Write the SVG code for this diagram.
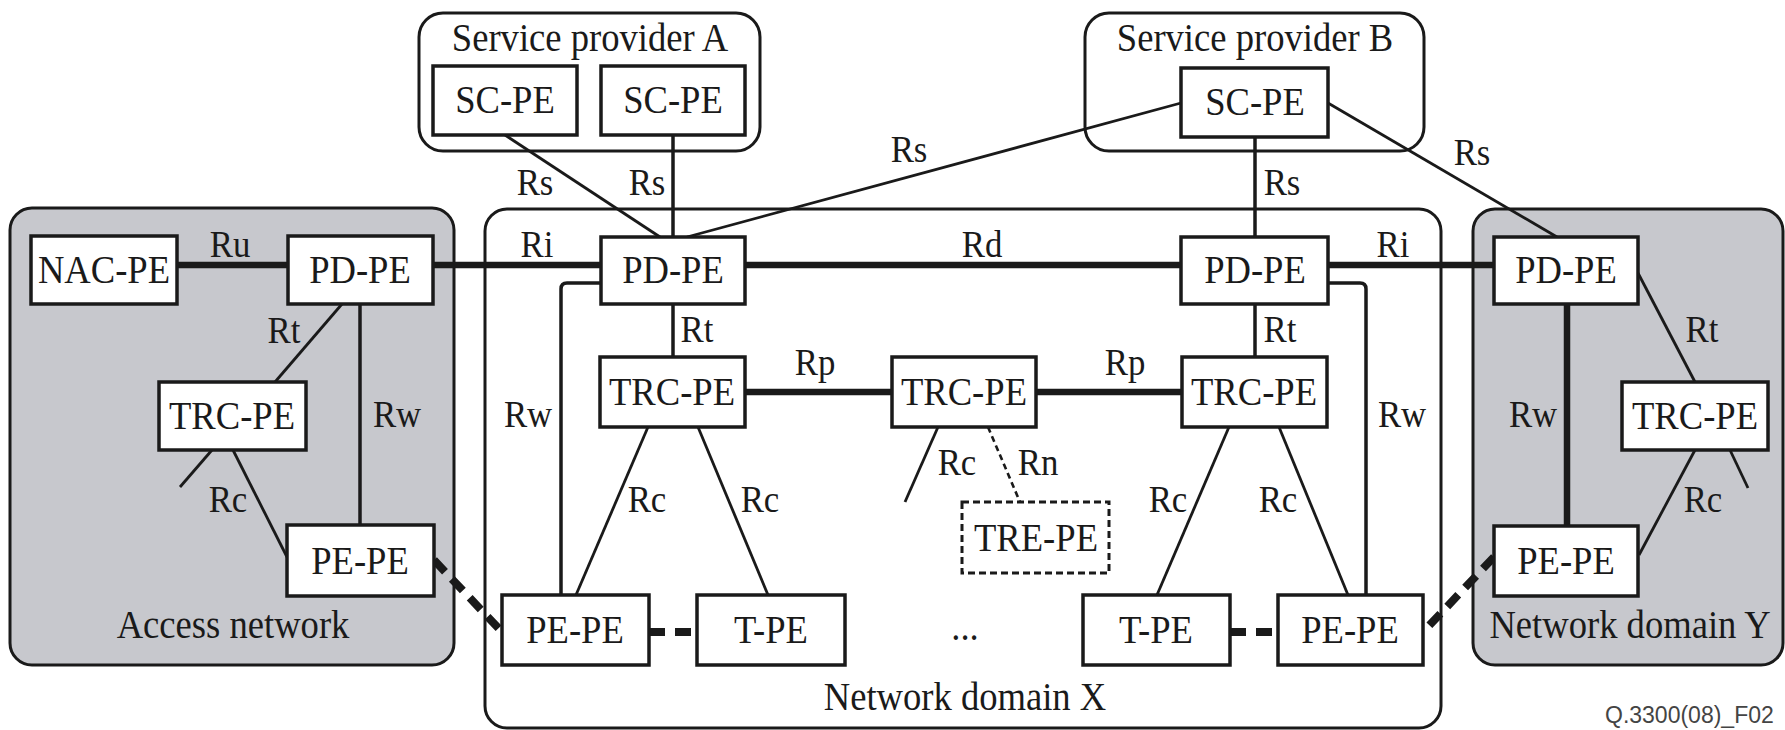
<svg xmlns="http://www.w3.org/2000/svg" width="1785" height="730" viewBox="0 0 1785 730">
<style>
.t{font-family:"Liberation Serif","Times New Roman",serif;font-size:40px;fill:#1a1a1a;text-anchor:middle;transform-box:fill-box;transform-origin:center;transform:scaleX(.915)}
.l{font-size:38px}
.fig{font-family:"Liberation Sans",Arial,sans-serif;font-size:23px;fill:#444}
.box{fill:#fff;stroke:#1a1a1a;stroke-width:3.5}
.dbox{fill:#fff;stroke:#1a1a1a;stroke-width:3;stroke-dasharray:7 4}
.grp{fill:#fff;stroke:#1a1a1a;stroke-width:3}
.shade{fill:#c7c8cd;stroke:#1a1a1a;stroke-width:3}
.c{stroke:#1a1a1a;stroke-width:2.8;fill:none}
.m{stroke-width:3.5}
.k{stroke-width:6.5}
.dn{stroke-dasharray:6 4;stroke-width:2.6}
.dk{stroke-width:8;stroke-dasharray:16 10}
</style>

<!-- containers -->
<g id="service-provider-a">
  <rect class="grp" x="419" y="13" width="341" height="138" rx="24"/>
  <text class="t" x="590" y="51">Service provider A</text>
</g>
<g id="service-provider-b">
  <rect class="grp" x="1085" y="13" width="339" height="138" rx="24"/>
  <text class="t" x="1255" y="51">Service provider B</text>
</g>
<g id="access-network">
  <rect class="shade" x="10" y="208" width="444" height="457" rx="22"/>
  <text class="t" x="233" y="638">Access network</text>
</g>
<g id="network-domain-x">
  <rect class="grp" x="485" y="209" width="956" height="519" rx="22"/>
  <text class="t" x="965" y="710">Network domain X</text>
  <text class="t" x="965" y="640">...</text>
</g>
<g id="network-domain-y">
  <rect class="shade" x="1473" y="209" width="310" height="456" rx="22"/>
  <text class="t" x="1630" y="638">Network domain Y</text>
</g>

<!-- connectors -->
<g id="connectors">
  <line class="c k" x1="177" y1="265" x2="288" y2="265"/>
  <line class="c k" x1="433" y1="265" x2="601" y2="265"/>
  <line class="c k" x1="745" y1="265" x2="1181" y2="265"/>
  <line class="c k" x1="1328" y1="265" x2="1494" y2="265"/>
  <line class="c" x1="505" y1="135" x2="660" y2="237"/>
  <line class="c m" x1="673" y1="135" x2="673" y2="237"/>
  <line class="c" x1="1181" y1="103" x2="687" y2="237"/>
  <line class="c m" x1="1255" y1="137" x2="1255" y2="237"/>
  <line class="c" x1="1328" y1="103" x2="1557" y2="237"/>
  <line class="c" x1="342" y1="304" x2="275" y2="382"/>
  <line class="c m" x1="360" y1="304" x2="360" y2="525"/>
  <line class="c" x1="233" y1="450" x2="287" y2="557"/>
  <line class="c" x1="212" y1="450" x2="180" y2="487"/>
  <line class="c m" x1="673" y1="304" x2="673" y2="357"/>
  <line class="c m" x1="1255" y1="304" x2="1255" y2="357"/>
  <path class="c m" d="M601 283 H567 Q561 283 561 289 V595"/>
  <path class="c m" d="M1328 283 H1360 Q1366 283 1366 289 V595"/>
  <line class="c k" x1="745" y1="392" x2="892" y2="392"/>
  <line class="c k" x1="1036" y1="392" x2="1182" y2="392"/>
  <line class="c" x1="648" y1="427" x2="576" y2="595"/>
  <line class="c" x1="698" y1="427" x2="768" y2="595"/>
  <line class="c" x1="938" y1="427" x2="905" y2="502"/>
  <line class="c dn" x1="988" y1="427" x2="1020" y2="502"/>
  <line class="c" x1="1229" y1="427" x2="1157" y2="595"/>
  <line class="c" x1="1279" y1="427" x2="1348" y2="595"/>
  <line class="c dk" x1="649" y1="632" x2="697" y2="632"/>
  <line class="c dk" x1="1230" y1="632" x2="1278" y2="632"/>
  <line class="c dk" x1="434" y1="560" x2="502" y2="632"/>
  <line class="c dk" x1="1494" y1="557" x2="1423" y2="632"/>
  <line class="c" x1="1638" y1="273" x2="1695" y2="382"/>
  <line class="c k" x1="1567" y1="304" x2="1567" y2="526"/>
  <line class="c" x1="1695" y1="450" x2="1639" y2="555"/>
  <line class="c" x1="1730" y1="450" x2="1748" y2="488"/>
  <!-- connector labels -->
  <text class="t l" x="230" y="257">Ru</text>
  <text class="t l" x="537" y="257">Ri</text>
  <text class="t l" x="982" y="257">Rd</text>
  <text class="t l" x="1393" y="257">Ri</text>
  <text class="t l" x="535" y="195">Rs</text>
  <text class="t l" x="647" y="195">Rs</text>
  <text class="t l" x="909" y="162">Rs</text>
  <text class="t l" x="1282" y="195">Rs</text>
  <text class="t l" x="1472" y="165">Rs</text>
  <text class="t l" x="284" y="343">Rt</text>
  <text class="t l" x="697" y="342">Rt</text>
  <text class="t l" x="1280" y="342">Rt</text>
  <text class="t l" x="1702" y="342">Rt</text>
  <text class="t l" x="397" y="427">Rw</text>
  <text class="t l" x="528" y="427">Rw</text>
  <text class="t l" x="1402" y="427">Rw</text>
  <text class="t l" x="1533" y="427">Rw</text>
  <text class="t l" x="815" y="375">Rp</text>
  <text class="t l" x="1125" y="375">Rp</text>
  <text class="t l" x="228" y="512">Rc</text>
  <text class="t l" x="647" y="512">Rc</text>
  <text class="t l" x="760" y="512">Rc</text>
  <text class="t l" x="957" y="475">Rc</text>
  <text class="t l" x="1038" y="475">Rn</text>
  <text class="t l" x="1168" y="512">Rc</text>
  <text class="t l" x="1278" y="512">Rc</text>
  <text class="t l" x="1703" y="512">Rc</text>
</g>

<!-- nodes -->
<g id="sc-pe-a1"><rect class="box" x="433" y="66" width="144" height="69"/><text class="t" x="505" y="113">SC-PE</text></g>
<g id="sc-pe-a2"><rect class="box" x="601" y="66" width="144" height="69"/><text class="t" x="673" y="113">SC-PE</text></g>
<g id="sc-pe-b"><rect class="box" x="1181" y="68" width="147" height="69"/><text class="t" x="1255" y="115">SC-PE</text></g>
<g id="nac-pe"><rect class="box" x="31" y="236" width="146" height="68"/><text class="t" x="104" y="283">NAC-PE</text></g>
<g id="pd-pe-access"><rect class="box" x="288" y="236" width="145" height="68"/><text class="t" x="360" y="283">PD-PE</text></g>
<g id="pd-pe-x1"><rect class="box" x="601" y="237" width="144" height="67"/><text class="t" x="673" y="283">PD-PE</text></g>
<g id="pd-pe-x2"><rect class="box" x="1181" y="237" width="147" height="67"/><text class="t" x="1255" y="283">PD-PE</text></g>
<g id="pd-pe-y"><rect class="box" x="1494" y="237" width="144" height="67"/><text class="t" x="1566" y="283">PD-PE</text></g>
<g id="trc-pe-access"><rect class="box" x="159" y="382" width="147" height="68"/><text class="t" x="232" y="429">TRC-PE</text></g>
<g id="trc-pe-x1"><rect class="box" x="600" y="357" width="145" height="70"/><text class="t" x="672" y="405">TRC-PE</text></g>
<g id="trc-pe-x2"><rect class="box" x="892" y="357" width="144" height="70"/><text class="t" x="964" y="405">TRC-PE</text></g>
<g id="trc-pe-x3"><rect class="box" x="1182" y="357" width="145" height="70"/><text class="t" x="1254" y="405">TRC-PE</text></g>
<g id="trc-pe-y"><rect class="box" x="1622" y="382" width="146" height="68"/><text class="t" x="1695" y="429">TRC-PE</text></g>
<g id="tre-pe"><rect class="dbox" x="962" y="502" width="147" height="71"/><text class="t" x="1036" y="551">TRE-PE</text></g>
<g id="pe-pe-access"><rect class="box" x="287" y="525" width="147" height="71"/><text class="t" x="360" y="574">PE-PE</text></g>
<g id="pe-pe-y"><rect class="box" x="1494" y="526" width="144" height="70"/><text class="t" x="1566" y="574">PE-PE</text></g>
<g id="pe-pe-x1"><rect class="box" x="502" y="595" width="147" height="70"/><text class="t" x="575" y="643">PE-PE</text></g>
<g id="t-pe-x1"><rect class="box" x="697" y="595" width="148" height="70"/><text class="t" x="771" y="643">T-PE</text></g>
<g id="t-pe-x2"><rect class="box" x="1083" y="595" width="147" height="70"/><text class="t" x="1156" y="643">T-PE</text></g>
<g id="pe-pe-x2"><rect class="box" x="1278" y="595" width="145" height="70"/><text class="t" x="1350" y="643">PE-PE</text></g>

<text class="fig" x="1605" y="723">Q.3300(08)_F02</text>
</svg>
